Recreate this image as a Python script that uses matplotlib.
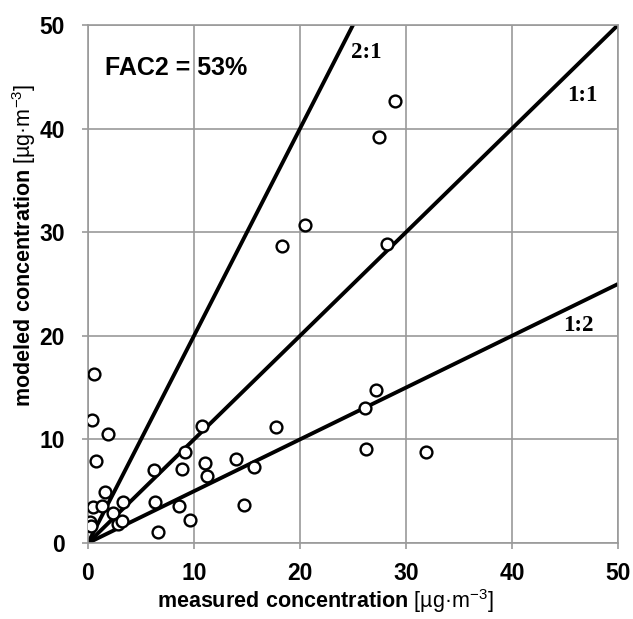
import matplotlib
matplotlib.use("Agg")
import matplotlib.pyplot as plt
import numpy as np

matplotlib.rcParams["font.family"] = ["Liberation Sans", "DejaVu Sans"]
matplotlib.rcParams["mathtext.fontset"] = "custom"
matplotlib.rcParams["mathtext.rm"] = "Liberation Sans"
matplotlib.rcParams["mathtext.bf"] = "Liberation Sans:bold"

# measured vs modeled concentration [ug/m3]
measured = [29.0, 27.45, 20.5, 18.3, 28.2,
            27.2, 26.1, 17.7, 26.2, 31.9,
            0.6, 0.4, 1.9, 0.75,
            10.8, 9.15, 6.2, 8.9, 11.0, 11.25, 13.95, 15.7,
            6.35, 8.6, 9.6, 6.6, 14.7,
            1.6, 0.5, 1.3, 3.3, 2.4, 0.2, 0.3, 2.85, 3.2]
modeled = [42.7, 39.2, 30.7, 28.7, 28.9,
           14.8, 13.0, 11.2, 9.1, 8.8,
           16.3, 11.9, 10.5, 7.9,
           11.3, 8.75, 7.0, 7.1, 7.75, 6.45, 8.1, 7.3,
           4.0, 3.6, 2.2, 1.1, 3.7,
           4.9, 3.5, 3.6, 4.0, 2.9, 2.05, 1.6, 1.8, 2.1]

ratios = [2.0, 1.0, 0.5]
ratio_labels = ["2:1", "1:1", "1:2"]
label_pos = [(24.8, 47.3), (45.2, 43.2), (44.85, 21.0)]
ticks = [0, 10, 20, 30, 40, 50]
fac2_text = "FAC2 = 53%"

fig = plt.figure(figsize=(6.33, 6.19), dpi=100)
ax = fig.add_axes([0.139, 0.1228, 0.8373, 0.8368])

gray = "#9a9a9a"
ax.set_xlim(0, 50)
ax.set_ylim(0, 50)
ax.set_xticks(ticks)
ax.set_yticks(ticks)
ax.grid(True, color=gray, linewidth=1.2)
ax.set_axisbelow(True)
for sp in ax.spines.values():
    sp.set_color(gray)
    sp.set_linewidth(1.2)
ax.tick_params(axis="both", direction="out", color=gray, width=1.2, length=4.5,
               labelsize=16.5)
ax.tick_params(axis="y", pad=12)
ax.tick_params(axis="x", pad=9)
for lab in ax.get_xticklabels() + ax.get_yticklabels():
    lab.set_fontweight("bold")

xs = np.array([0.0, 50.0])
for r in ratios:
    ax.plot(xs, r * xs, color="black", linewidth=2.8, solid_capstyle="butt", zorder=2)

for (lx, ly), txt in zip(label_pos, ratio_labels):
    ax.text(lx, ly, txt, family=["Liberation Serif", "DejaVu Serif"], fontweight="bold",
            fontsize=16.5, ha="left", va="center", zorder=4)

ax.plot(measured, modeled, linestyle="none", marker="o", markersize=8.5,
        markerfacecolor="white", markeredgecolor="black", markeredgewidth=1.7, zorder=3)

ax.text(0.032, 0.917, fac2_text, transform=ax.transAxes, fontsize=18,
        fontweight="bold", ha="left", va="center")

ax.set_xlabel(r"$\mathbf{measured\ concentration}$ [µg·m$^{-3}$]", fontsize=15.5)
ax.set_ylabel(r"$\mathbf{modeled\ concentration}$ [µg·m$^{-3}$]", fontsize=15.5)
ax.xaxis.set_label_coords(0.447, -0.085)
ax.yaxis.set_label_coords(-0.094, 0.574)

fig.savefig("out.png", dpi=100)
